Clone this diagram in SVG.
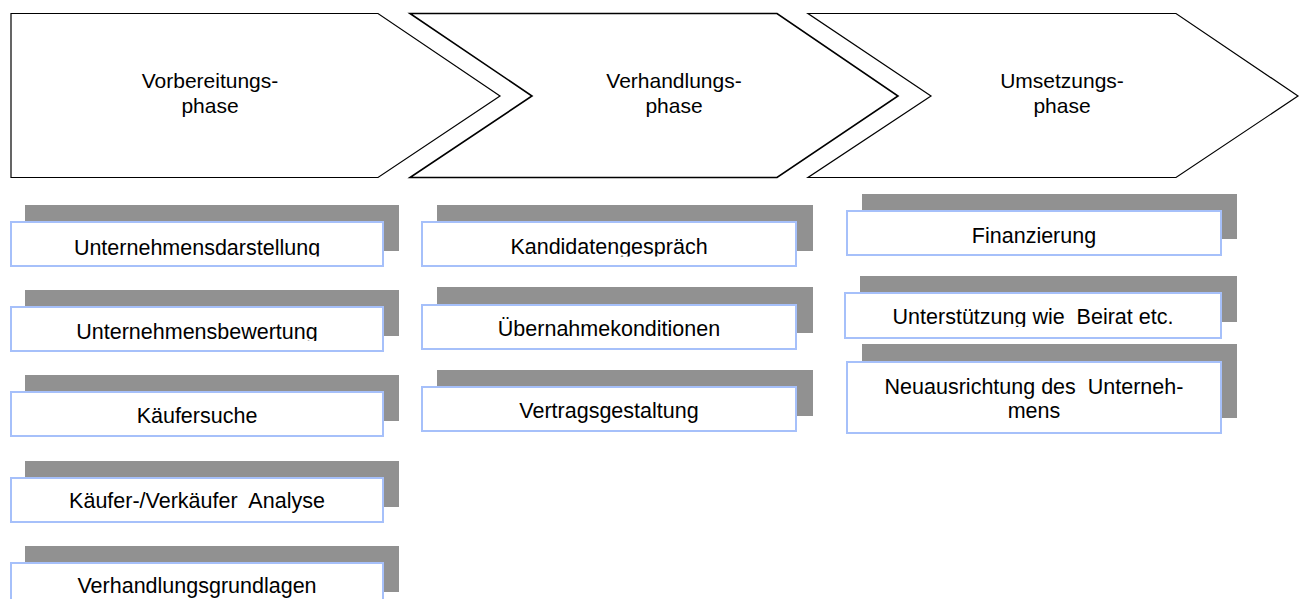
<svg xmlns="http://www.w3.org/2000/svg" width="1301" height="599" viewBox="0 0 1301 599">
<style>
.chev{fill:#ffffff;stroke:#000000;stroke-width:1.2;stroke-linejoin:miter}
.chev.bold{stroke-width:1.6}
.shadow{fill:#919191}
.box{fill:#ffffff;stroke:#a6c0fa;stroke-width:2}
text{font-family:"Liberation Sans",Arial,sans-serif;font-size:21.5px;fill:#000000;text-anchor:middle}
text.ph{font-size:21px}
</style>
<defs>
<clipPath id="c1"><rect x="0" y="200" width="420" height="56.5"/></clipPath>
<clipPath id="c2"><rect x="0" y="285" width="420" height="56"/></clipPath>
<clipPath id="c6"><rect x="410" y="200" width="420" height="56.5"/></clipPath>
<clipPath id="c10"><rect x="830" y="270" width="420" height="57"/></clipPath>
</defs>
<g id="phase-vorbereitung">
<polygon class="chev" points="11,13.5 378,13.5 500,96 378,177.5 11,177.5"/>
<text class="ph" x="210" y="88">Vorbereitungs-</text>
<text class="ph" x="210" y="113">phase</text>
</g>
<g id="phase-verhandlung">
<polygon class="chev bold" points="410,13.5 777,13.5 898,96 777,177.5 410,177.5 532,96"/>
<text class="ph" x="674" y="88">Verhandlungs-</text>
<text class="ph" x="674" y="113">phase</text>
</g>
<g id="phase-umsetzung">
<polygon class="chev" points="808,13.5 1176,13.5 1298,96 1176,177.5 808,177.5 931,96"/>
<text class="ph" x="1062" y="88">Umsetzungs-</text>
<text class="ph" x="1062" y="113">phase</text>
</g>
<g id="connectors"></g>
<g id="item-unternehmensdarstellung">
<rect class="shadow" x="25" y="205" width="374" height="46"/>
<rect class="box" x="11" y="222" width="372" height="44"/>
<text x="197" y="254.5" clip-path="url(#c1)">Unternehmensdarstellung</text>
</g>
<g id="item-unternehmensbewertung">
<rect class="shadow" x="25" y="290" width="374" height="46"/>
<rect class="box" x="11" y="307" width="372" height="44"/>
<text x="197" y="338.5" clip-path="url(#c2)">Unternehmensbewertung</text>
</g>
<g id="item-kaeufersuche">
<rect class="shadow" x="25" y="375" width="374" height="46"/>
<rect class="box" x="11" y="392" width="372" height="44"/>
<text x="197" y="422.5">Käufersuche</text>
</g>
<g id="item-analyse">
<rect class="shadow" x="25" y="461" width="374" height="46"/>
<rect class="box" x="11" y="478" width="372" height="44"/>
<text x="197" y="507.5" xml:space="preserve">Käufer-/Verkäufer  Analyse</text>
</g>
<g id="item-verhandlungsgrundlagen">
<rect class="shadow" x="25" y="546" width="374" height="46"/>
<rect class="box" x="11" y="563" width="372" height="44"/>
<text x="197" y="592.5">Verhandlungsgrundlagen</text>
</g>
<g id="item-kandidatengespraech">
<rect class="shadow" x="437" y="205" width="376" height="46"/>
<rect class="box" x="422" y="222" width="374" height="44"/>
<text x="609" y="253.5" clip-path="url(#c6)">Kandidatengespräch</text>
</g>
<g id="item-uebernahmekonditionen">
<rect class="shadow" x="437" y="287" width="376" height="46"/>
<rect class="box" x="422" y="305" width="374" height="44"/>
<text x="609" y="335.5">Übernahmekonditionen</text>
</g>
<g id="item-vertragsgestaltung">
<rect class="shadow" x="437" y="370" width="376" height="46"/>
<rect class="box" x="422" y="387" width="374" height="44"/>
<text x="609" y="417.5">Vertragsgestaltung</text>
</g>
<g id="item-finanzierung">
<rect class="shadow" x="862" y="194" width="375" height="45"/>
<rect class="box" x="847" y="211" width="374" height="44"/>
<text x="1034" y="242.5">Finanzierung</text>
</g>
<g id="item-unterstuetzung">
<rect class="shadow" x="860" y="276" width="377" height="46"/>
<rect class="box" x="845" y="293" width="376" height="45"/>
<text x="1033" y="323.5" clip-path="url(#c10)" xml:space="preserve">Unterstützung wie  Beirat etc.</text>
</g>
<g id="item-neuausrichtung">
<rect class="shadow" x="862" y="344" width="375" height="74"/>
<rect class="box" x="847" y="362" width="374" height="71"/>
<text x="1034" y="394" xml:space="preserve">Neuausrichtung des  Unterneh-</text>
<text x="1034" y="418">mens</text>
</g>
</svg>
